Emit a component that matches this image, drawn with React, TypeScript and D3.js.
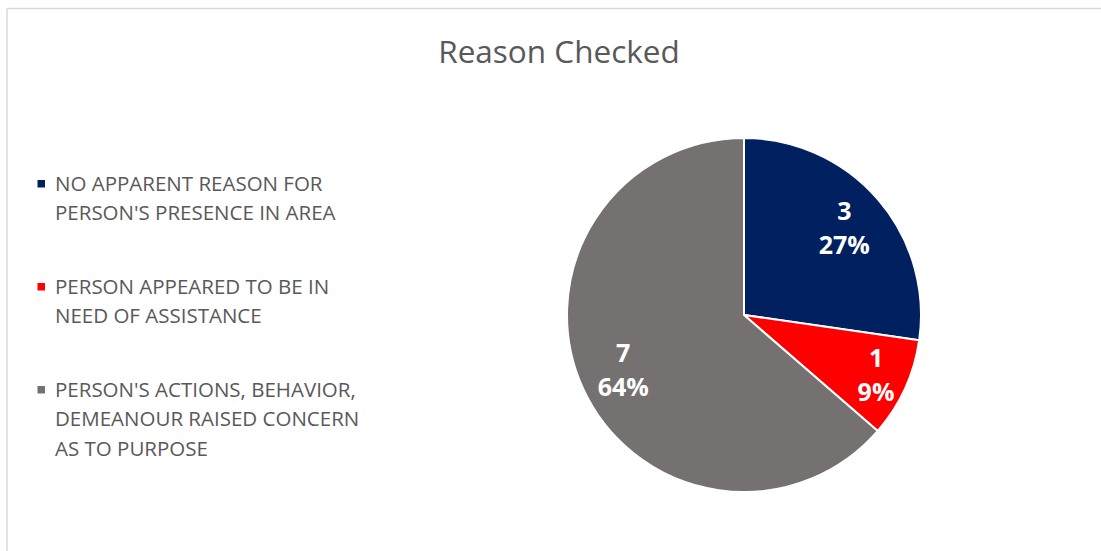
import React from "react";
import * as d3 from "d3";

const categories = [
  "NO APPARENT REASON FOR PERSON'S PRESENCE IN AREA",
  "PERSON APPEARED TO BE IN NEED OF ASSISTANCE",
  "PERSON'S ACTIONS, BEHAVIOR, DEMEANOUR RAISED CONCERN AS TO PURPOSE",
];
const legendLines = [
  ["NO APPARENT REASON FOR", "PERSON'S PRESENCE IN AREA"],
  ["PERSON APPEARED TO BE IN", "NEED OF ASSISTANCE"],
  ["PERSON'S ACTIONS, BEHAVIOR,", "DEMEANOUR RAISED CONCERN", "AS TO PURPOSE"],
];
const values = [3, 1, 7];
const colors = ["#002060", "#FF0000", "#767171"];
const title = "Reason Checked";

const W = 1101;
const H = 551;
const FONT = "'Open Sans', Lato, sans-serif";

export default function App() {
  const cx = 744;
  const cy = 315;
  const r = 177;
  const total = d3.sum(values);
  const pie = d3.pie<number>().sort(null).value((d) => d);
  const arcs = pie(values);
  const arcGen = d3.arc<d3.PieArcDatum<number>>().innerRadius(0).outerRadius(r);
  const labelRatio = (i: number) => (i === 1 ? 0.82 : 0.75);

  const legendStart = [191, 294, 397];
  const lineH = 29.3;

  return (
    <div style={{ position: "absolute", left: 0, top: 0, width: W, height: H, background: "#fff" }}>
      <svg width={W} height={H} style={{ display: "block" }}>
        <rect x={0} y={0} width={W} height={H} fill="#fff" />
        <line x1={7} y1={8.5} x2={W} y2={8.5} stroke="#d9d9d9" strokeWidth={1.5} />
        <line x1={7} y1={8.5} x2={7} y2={H} stroke="#d9d9d9" strokeWidth={1.5} />
        <text x={559} y={63} textAnchor="middle" fontFamily={FONT} fontSize={31.5} fill="#595959">
          {title}
        </text>
        <g transform={`translate(${cx},${cy})`}>
          {arcs.map((a, i) => (
            <path key={categories[i]} d={arcGen(a) || ""} fill={colors[i]} stroke="#fff" strokeWidth={2} strokeLinejoin="round" />
          ))}
          {arcs.map((a, i) => {
            const lr = r * labelRatio(i);
            const [lx, ly] = d3.arc<d3.PieArcDatum<number>>().innerRadius(lr).outerRadius(lr).centroid(a);
            const pct = Math.round((values[i] / total) * 100);
            return (
              <text key={"l" + i} x={lx} textAnchor="middle" fontFamily={FONT} fontWeight="bold" fontSize={25} fill="#fff">
                <tspan x={lx} y={ly - 8}>{values[i]}</tspan>
                <tspan x={lx} y={ly + 26}>{pct + "%"}</tspan>
              </text>
            );
          })}
        </g>
        {legendLines.map((lines, i) => (
          <g key={"leg" + i}>
            <rect x={37.5} y={legendStart[i] - 11} width={7.5} height={7.5} fill={colors[i]} />
            {lines.map((t, j) => (
              <text key={j} x={55} y={legendStart[i] + j * lineH} fontFamily={FONT} fontSize={20.5} fill="#595959">
                {t}
              </text>
            ))}
          </g>
        ))}
      </svg>
    </div>
  );
}
